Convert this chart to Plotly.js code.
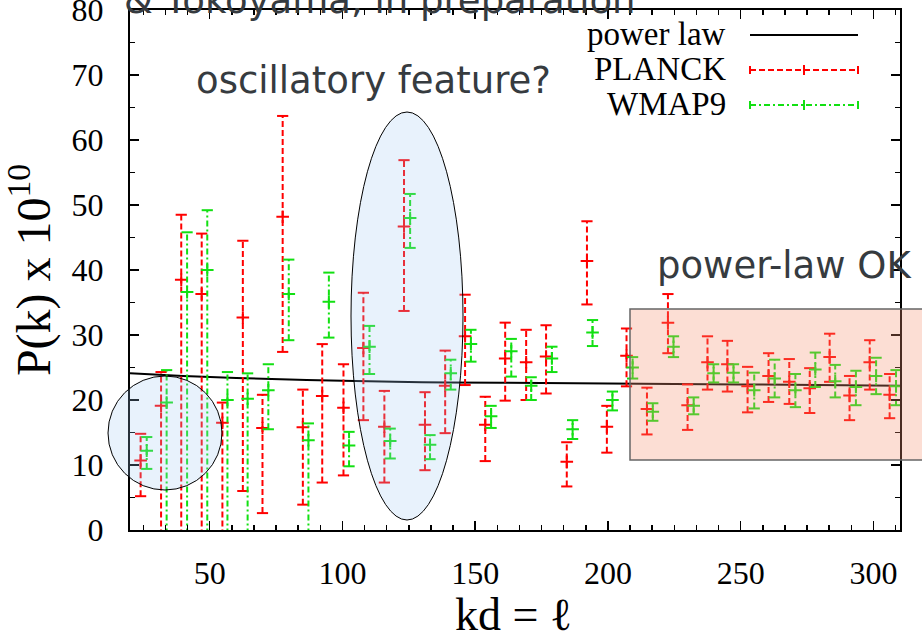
<!DOCTYPE html>
<html>
<head>
<meta charset="utf-8">
<script src="https://cdn.plot.ly/plotly-3.0.1.min.js"></script>
<style>
  html, body { margin: 0; padding: 0; background: #ffffff; }
  #chart { width: 922px; height: 637px; }
</style>
</head>
<body>
<div id="chart"></div>
<script>
// Primordial power spectrum reconstruction, P(k) x 10^10 against kd = l

// PLANCK points: centre, upper and lower error limits
const planckX  = [24.0, 31.7, 39.3, 47.0, 54.8, 62.5, 69.9, 77.5, 85.1, 92.4, 100.4, 107.9, 115.8, 123.2, 131.1, 138.7, 146.2, 153.8, 161.3, 169.2, 176.7, 184.5, 192.1, 199.6, 207.0, 214.7, 222.6, 230.0, 237.5, 245.0, 252.6, 260.5, 268.3, 276.0, 283.5, 291.0, 298.6, 306.1];
const planckY  = [10.7, 19.1, 38.5, 36.3, 16.5, 32.7, 15.7, 48.2, 15.8, 20.6, 18.8, 28.0, 15.9, 46.7, 16.2, 22.2, 29.8, 16.2, 26.4, 25.8, 26.7, 10.5, 41.4, 15.9, 26.8, 18.6, 31.9, 19.2, 25.8, 25.5, 22.1, 23.7, 22.8, 21.8, 26.6, 20.7, 25.8, 20.8];
const planckHi = [14.8, 24.3, 48.5, 45.6, 19.6, 44.5, 20.8, 63.7, 21.6, 28.6, 25.5, 36.5, 21.4, 56.9, 21.2, 27.6, 36.2, 20.5, 31.9, 30.8, 31.5, 13.5, 47.5, 19.1, 31.0, 21.9, 36.3, 22.4, 29.8, 29.1, 25.1, 27.2, 26.3, 24.9, 30.2, 23.7, 29.2, 24.0];
const planckLo = [5.2, -5, -5, -5, -5, 6.0, 2.6, 27.4, 3.9, 7.3, 8.4, 16.9, 7.3, 33.7, 9.2, 14.9, 22.3, 10.6, 19.9, 20.0, 21.0, 6.7, 34.7, 11.9, 22.1, 14.7, 27.2, 15.4, 21.6, 21.3, 18.1, 19.7, 19.4, 18.0, 22.8, 16.9, 21.6, 17.2];

// WMAP9 points
const wmapX  = [26.3, 33.8, 41.5, 49.1, 56.7, 64.3, 72.1, 79.8, 87.2, 94.9, 102.5, 110.2, 118.0, 125.5, 133.0, 140.8, 148.4, 156.0, 163.6, 171.1, 178.9, 186.7, 194.2, 201.7, 209.3, 216.9, 224.7, 232.3, 239.8, 247.3, 255.1, 262.8, 270.6, 278.1, 285.6, 293.4, 301.0, 308.5];
const wmapY  = [12.2, 19.6, 36.6, 40.0, 20.0, 20.2, 21.5, 36.3, 13.8, 35.1, 13.0, 28.2, 13.7, 48.0, 13.1, 24.1, 28.6, 17.5, 27.5, 22.2, 26.4, 15.5, 30.4, 20.0, 25.0, 18.2, 28.2, 19.1, 24.1, 24.2, 21.5, 23.3, 21.5, 24.7, 22.9, 22.0, 23.7, 22.1];
const wmapHi = [14.3, 24.6, 45.8, 49.2, 24.3, 24.1, 25.5, 41.6, 16.4, 39.6, 15.1, 31.4, 15.6, 51.7, 14.6, 26.2, 30.8, 19.1, 29.4, 23.5, 28.2, 16.9, 32.3, 21.3, 26.6, 19.5, 29.8, 20.4, 25.5, 25.5, 24.2, 26.2, 24.0, 27.3, 25.4, 24.5, 26.5, 24.6];
const wmapLo = [9.4, -5, -5, -5, -5, -5, 15.5, 29.2, -5, 29.6, 9.8, 24.0, 11.0, 43.4, 10.9, 21.6, 25.9, 15.7, 23.6, 20.0, 24.3, 14.0, 28.3, 18.4, 23.3, 16.8, 26.6, 17.8, 22.7, 22.7, 18.7, 20.4, 18.9, 22.0, 20.4, 19.2, 20.9, 19.2];

// best-fit power law
const powerX = [20, 40, 60, 80, 100, 130, 160, 200, 250, 310];
const powerY = [24.1, 23.7, 23.4, 23.15, 22.95, 22.75, 22.65, 22.55, 22.4, 22.2];

const xTickVals = [50, 100, 150, 200, 250, 300];
const yTickVals = [0, 10, 20, 30, 40, 50, 60, 70, 80];

const RED = '#ff0000';
const GREEN = '#12e012';
const SERIF = 'Liberation Serif';
const SANS = 'DejaVu Sans';

// plot frame in pixels, used to place the overlays
const L = 130, R = 900, T = 10, B = 530;
const px = v => (v - L) / (R - L);
const py = v => (B - v) / (B - T);

// vertical error segments as one broken line per series
function segments(xs, lo, hi) {
  const sx = [], sy = [];
  xs.forEach((x, i) => { sx.push(x, x, null); sy.push(lo[i], hi[i], null); });
  return { x: sx, y: sy };
}

function series(xs, ys, lo, hi, color, dash) {
  const seg = segments(xs, lo, hi);
  return [
    { type: 'scatter', mode: 'lines', x: seg.x, y: seg.y, connectgaps: false,
      line: { color: color, width: 2, dash: dash }, hoverinfo: 'skip', showlegend: false },
    { type: 'scatter', mode: 'markers', x: xs.concat(xs), y: lo.concat(hi),
      marker: { symbol: 'line-ew', size: 8, line: { color: color, width: 2 } },
      hoverinfo: 'skip', showlegend: false },
    { type: 'scatter', mode: 'markers', x: xs, y: ys,
      marker: { symbol: 'cross-thin', size: 9, line: { color: color, width: 2 } },
      showlegend: false }
  ];
}

const traces = [
  { type: 'scatter', mode: 'lines', x: powerX, y: powerY, line: { color: '#000', width: 2, shape: 'spline' }, showlegend: false }
].concat(
  series(planckX, planckY, planckLo, planckHi, RED, '6px,3px'),
  series(wmapX, wmapY, wmapLo, wmapHi, GREEN, '6px,3px,2px,3px')
);

const blueFill = 'rgba(158,200,242,0.24)';

function keyLine(x0, x1, y0, y1, color, dash) {
  return { type: 'line', xref: 'paper', yref: 'paper', layer: 'above',
    x0: px(x0), x1: px(x1), y0: py(y0), y1: py(y1),
    line: { color: color, width: 2, dash: dash || 'solid' } };
}

const shapes = [
  { type: 'circle', xref: 'paper', yref: 'paper', layer: 'above',
    x0: px(108), x1: px(222), y0: py(490), y1: py(376),
    fillcolor: blueFill, line: { color: '#000', width: 1 } },
  { type: 'circle', xref: 'paper', yref: 'paper', layer: 'above',
    x0: px(351), x1: px(463), y0: py(520), y1: py(112),
    fillcolor: blueFill, line: { color: '#000', width: 1 } },
  { type: 'rect', xref: 'paper', yref: 'paper', layer: 'above',
    x0: px(630), x1: px(940), y0: py(460), y1: py(309),
    fillcolor: 'rgba(245,145,112,0.3)', line: { color: '#666', width: 1.5 } },
  // key samples
  keyLine(750, 858, 35, 35, '#000'),
  keyLine(750, 858, 70, 70, RED, '6px,3px'),
  keyLine(750, 750, 66, 74, RED),
  keyLine(858, 858, 66, 74, RED),
  keyLine(804, 804, 65, 75, RED),
  keyLine(750, 858, 105, 105, GREEN, '6px,3px,2px,3px'),
  keyLine(750, 750, 101, 109, GREEN),
  keyLine(858, 858, 101, 109, GREEN),
  keyLine(804, 804, 100, 110, GREEN)
];

const noteFont = { family: SANS, size: 37, color: '#363b3f' };
const keyFont = { family: SERIF, size: 33, color: '#000' };

const annotations = [
  { text: '& Yokoyama, in preparation', xref: 'paper', yref: 'paper', x: px(380), y: py(0),
    xanchor: 'center', yanchor: 'middle', showarrow: false, font: noteFont },
  { text: 'oscillatory feature?', xref: 'paper', yref: 'paper', x: px(373), y: py(81),
    xanchor: 'center', yanchor: 'middle', showarrow: false, font: noteFont },
  { text: 'power-law OK', xref: 'paper', yref: 'paper', x: px(784), y: py(265),
    xanchor: 'center', yanchor: 'middle', showarrow: false, font: noteFont },
  { text: 'power law', xref: 'paper', yref: 'paper', x: px(728), y: py(34),
    xanchor: 'right', yanchor: 'middle', showarrow: false, font: keyFont },
  { text: 'PLANCK', xref: 'paper', yref: 'paper', x: px(728), y: py(69),
    xanchor: 'right', yanchor: 'middle', showarrow: false, font: keyFont },
  { text: 'WMAP9', xref: 'paper', yref: 'paper', x: px(728), y: py(104),
    xanchor: 'right', yanchor: 'middle', showarrow: false, font: keyFont },
  // horizontal axis title
  { text: 'kd = ℓ', xref: 'paper', yref: 'paper', x: px(513), y: py(614),
    xanchor: 'center', yanchor: 'middle', showarrow: false,
    font: { family: SERIF, size: 46, color: '#000' } }
];

function axisBase() {
  return {
    ticks: 'inside', ticklen: 9, tickwidth: 1.5, tickcolor: '#000',
    showline: true, linewidth: 2, linecolor: '#000', mirror: 'allticks',
    showgrid: false, zeroline: false, ticklabeloverflow: 'allow',
    tickfont: { family: SERIF, size: 32, color: '#000' }
  };
}

const layout = {
  width: 922, height: 637,
  margin: { l: L, r: 922 - R, t: T, b: 637 - B, pad: 0 },
  paper_bgcolor: '#ffffff',
  plot_bgcolor: 'rgba(0,0,0,0)',
  showlegend: false,
  xaxis: Object.assign(axisBase(), {
    range: [20, 310], tickmode: 'array', tickvals: xTickVals,
    ticklabelstandoff: 14,
    minor: { dtick: 50 / 6, tick0: 0, ticks: 'inside', ticklen: 5, tickwidth: 1.5, tickcolor: '#000', showgrid: false }
  }),
  yaxis: Object.assign(axisBase(), {
    range: [0, 80], tickmode: 'array', tickvals: yTickVals,
    ticklabelstandoff: 18,
    minor: { dtick: 5, tick0: 0, ticks: 'inside', ticklen: 5, tickwidth: 1.5, tickcolor: '#000', showgrid: false },
    title: { text: 'P(k) x 10<sup>10</sup>', font: { family: SERIF, size: 48, color: '#000' }, standoff: 12 }
  }),
  shapes: shapes,
  annotations: annotations
};

Plotly.newPlot('chart', traces, layout, { displayModeBar: false, staticPlot: true });
</script>
</body>
</html>
